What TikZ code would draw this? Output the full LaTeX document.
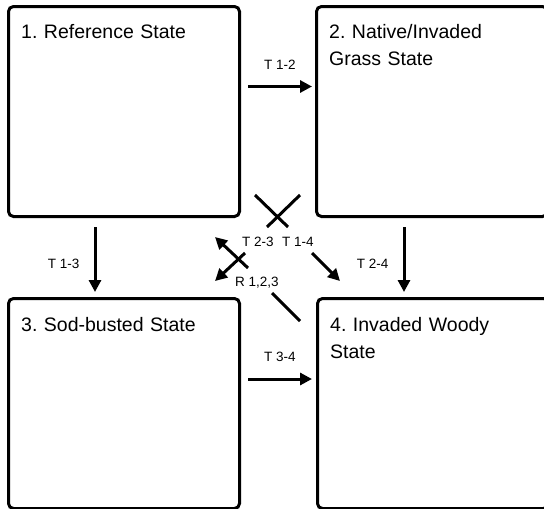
\documentclass[tikz,border=0pt]{standalone}
\usepackage{fontspec}
\setmainfont{Liberation Sans}
\usetikzlibrary{arrows.meta}
\frenchspacing

\tikzset{
  state/.style={draw, line width=3pt, rounded corners=5pt, minimum width=231pt,
    minimum height=210pt, inner sep=0pt, anchor=north west},
  title/.style={anchor=base west, inner sep=0pt, align=left, text width=210pt,
    font=\fontsize{19.5}{27}\selectfont},
  trans/.style={line width=3pt, -{Triangle[length=12pt,width=12pt]}},
  lbl/.style={inner sep=0pt, font=\fontsize{13.5}{15}\selectfont},
  stub/.style={line width=3pt}
}

\begin{document}
\begin{tikzpicture}[x=1pt, y=-1pt]
    \useasboundingbox (0,0) rectangle (544,509);
    \clip (0,0) rectangle (544,509);
    %States
    \node[state] (s1) at (7,5) {};
    \node[state] (s2) at (315,5) {};
    \node[state] (s3) at (7,297) {};
    \node[state] (s4) at (316,297) {};
    %State titles
    \node[title] (n1) at ([shift={(14,33)}]s1.north west) {1. Reference State};
    \node[title] (n2) at ([shift={(14,33)}]s2.north west) {2. Native/Invaded\\Grass State};
    \node[title] (n3) at ([shift={(14,34)}]s3.north west) {3. Sod-busted State};
    \node[title] (n4) at ([shift={(14,34)}]s4.north west) {4. Invaded Woody\\State};
    %Transitions
    \draw[trans] ([shift={(7,-25)}]s1.east) -- ([shift={(-3,-25)}]s2.west)
      node[lbl, midway, above=16pt] (t12) {T 1-2};
    \draw[trans] ([shift={(88,9)}]s1.south west) -- ([shift={(88,-5)}]s3.north west)
      node[lbl, midway, left=14pt, yshift=-4pt] (t13) {T 1-3};
    \draw[trans] ([shift={(89,9)}]s2.south west) -- ([shift={(88,-5)}]s4.north west)
      node[lbl, midway, left=14pt, yshift=-4pt] (t24) {T 2-4};
    \draw[trans] ([shift={(7,82)}]s3.north east) -- ([shift={(-4,82)}]s4.north west)
      node[lbl, midway, above=16pt] (t34) {T 3-4};
    %Crossing stubs
    \draw[stub] (255,195) -- (288,227);
    \draw[stub] (300,195) -- (267,227);
    \draw[stub] (272,293) -- (300,321);
    %Diagonal transitions
    \draw[trans] (248,268) -- (215,237);
    \draw[trans] (245,253) -- (215,281);
    \draw[trans] (312,253) -- (340,281);
    %Diagonal labels
    \node[lbl] (t23) at (258,242) {T 2-3};
    \node[lbl] (t14) at (298,242) {T 1-4};
    \node[lbl] (r123) at (257,283) {R 1,2,3};
\end{tikzpicture}
\end{document}
